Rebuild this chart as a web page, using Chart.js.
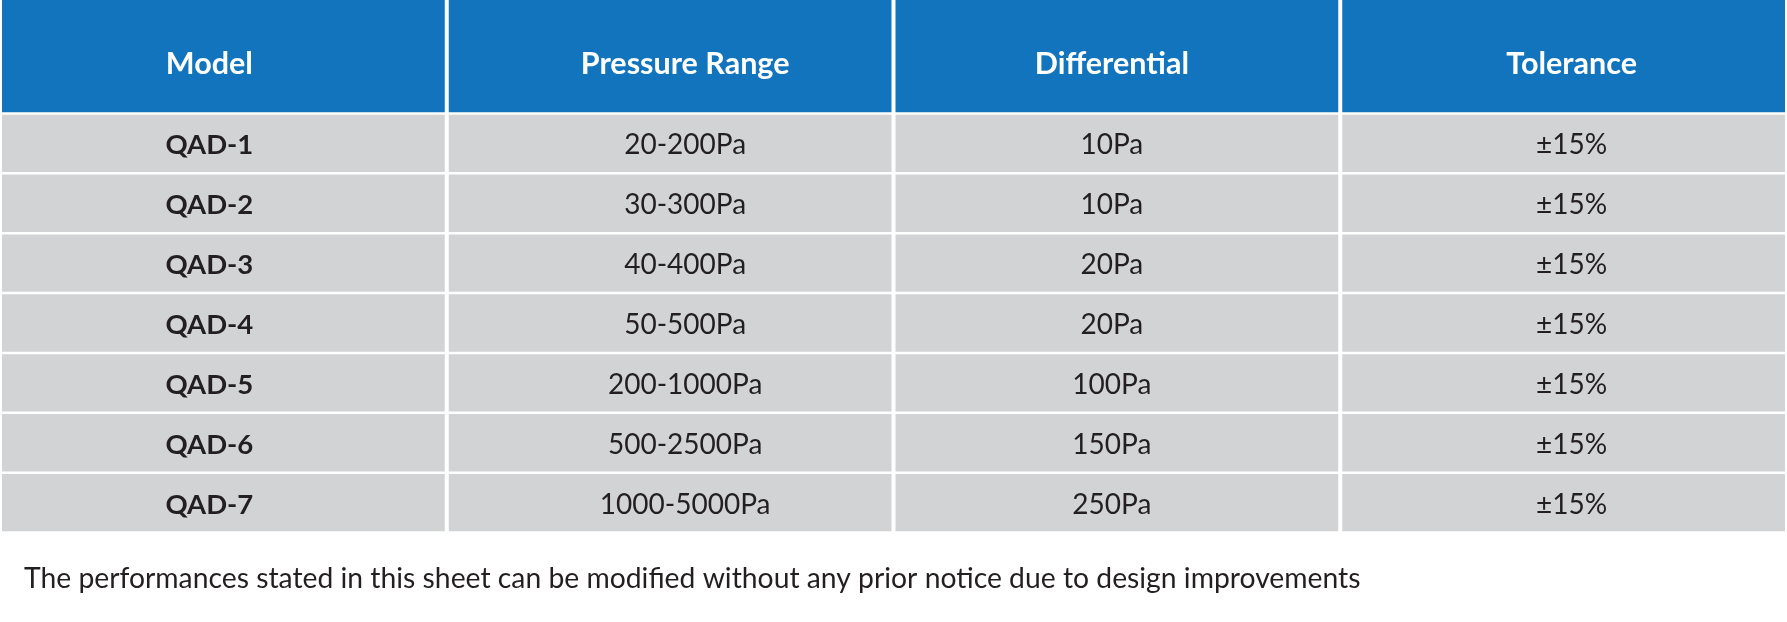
<!DOCTYPE html>
<html>
<head>
<meta charset="utf-8">
<script src="https://cdn.jsdelivr.net/npm/chart.js@4"></script>
<style>
  html, body { margin: 0; padding: 0; background: #ffffff; }
  canvas { display: block; }
</style>
</head>
<body>
<canvas id="specTable" width="1787" height="622"></canvas>
<script>
const headers = ["Model", "Pressure Range", "Differential", "Tolerance"];
const models = ["QAD-1", "QAD-2", "QAD-3", "QAD-4", "QAD-5", "QAD-6", "QAD-7"];
const pressureRanges = ["20-200Pa", "30-300Pa", "40-400Pa", "50-500Pa", "200-1000Pa", "500-2500Pa", "1000-5000Pa"];
const differentials = ["10Pa", "10Pa", "20Pa", "20Pa", "100Pa", "150Pa", "250Pa"];
const tolerances = ["±15%", "±15%", "±15%", "±15%", "±15%", "±15%", "±15%"];
const footnote = "The performances stated in this sheet can be modified without any prior notice due to design improvements";

const headerColour = "#1174bd";
const cellColour = "#d1d3d4";
const textColour = "#231f20";
const fontFamily = "Lato, 'Open Sans', sans-serif";

// small nudges so each column's text sits where the printed sheet has it
const columnShift = [-14, 15, -5, 8];

const columns = [models, pressureRanges, differentials, tolerances];

const getData = () => ({
  labels: headers,
  datasets: models.map((model, row) => ({
    label: model,
    data: headers.map(() => [row, row + 1]),
    backgroundColor: cellColour,
    borderColor: "#ffffff",
    borderWidth: { top: 1.25, bottom: 1.25, left: 2, right: 2 },
    borderSkipped: false,
    inflateAmount: 0,
    barPercentage: 1,
    categoryPercentage: 1,
  })),
});

const tableText = {
  id: "tableText",
  beforeDatasetsDraw(chart) {
    const { ctx } = chart;
    const xScale = chart.scales.x;
    const band = (xScale.right - xScale.left) / headers.length;
    ctx.save();
    ctx.fillStyle = headerColour;
    headers.forEach((h, c) => {
      const cx = xScale.getPixelForValue(c);
      ctx.fillRect(cx - band / 2 + 2, xScale.top, band - 4, xScale.bottom - xScale.top - 1.25);
    });
    ctx.restore();
  },
  afterDatasetsDraw(chart) {
    const { ctx } = chart;
    const xScale = chart.scales.x;
    ctx.save();
    ctx.textAlign = "center";
    ctx.textBaseline = "alphabetic";

    ctx.fillStyle = "#ffffff";
    ctx.font = "bold 30.5px " + fontFamily;
    xScale.getLabels().forEach((label, c) => {
      ctx.fillText(label, xScale.getPixelForValue(c) + columnShift[c], 73.5);
    });

    chart.data.datasets.forEach((ds, row) => {
      const meta = chart.getDatasetMeta(row);
      meta.data.forEach((bar, c) => {
        const y = (bar.y + bar.base) / 2;
        ctx.fillStyle = textColour;
        ctx.font = c === 0 ? "bold 27.5px " + fontFamily : "28px " + fontFamily;
        ctx.fillText(columns[c][row], bar.x + columnShift[c], y + 11);
      });
    });

    ctx.textAlign = "left";
    ctx.font = "28.3px " + fontFamily;
    ctx.fillStyle = textColour;
    ctx.fillText(footnote, 24, chart.chartArea.bottom + 55);
    ctx.restore();
  },
};

window.addEventListener("load", () => {
  const canvas = document.getElementById("specTable");
  new Chart(canvas, {
    type: "bar",
    data: getData(),
    plugins: [tableText],
    options: {
      responsive: false,
      animation: false,
      layout: { padding: { top: 0, left: 0, right: 0, bottom: 89.5 } },
      plugins: {
        legend: { display: false },
        tooltip: { enabled: false },
      },
      datasets: { bar: { grouped: false } },
      scales: {
        x: {
          type: "category",
          position: "top",
          offset: true,
          grid: { display: false, drawTicks: false },
          border: { display: false },
          ticks: { display: false },
          afterFit: (scale) => {
            scale.height = 113.5;
          },
        },
        y: {
          type: "linear",
          display: false,
          reverse: true,
          min: 0,
          max: 7,
        },
      },
    },
  });
});
</script>
</body>
</html>
